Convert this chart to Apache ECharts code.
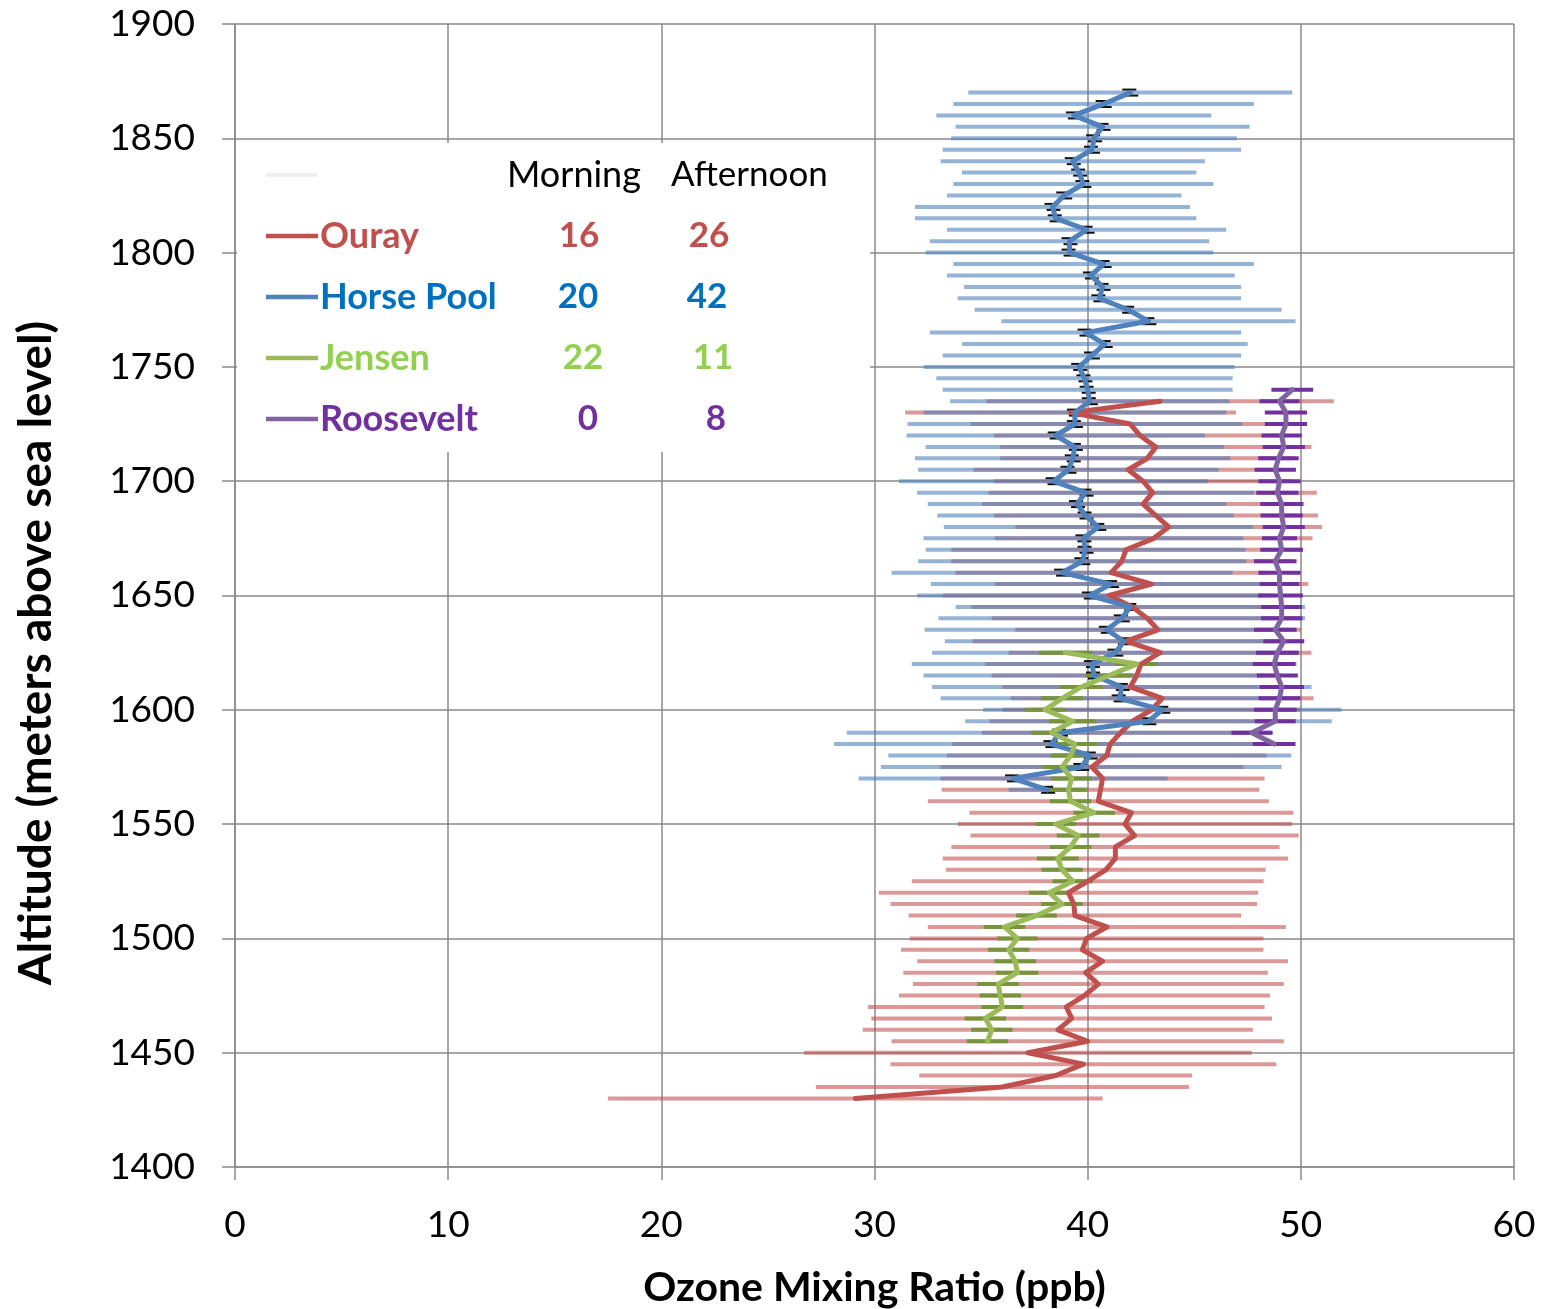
<!DOCTYPE html>
<html>
<head>
<meta charset="utf-8">
<script src="https://cdn.jsdelivr.net/npm/echarts@6.0.0/dist/echarts.min.js"></script>
<style>
  html, body { margin: 0; padding: 0; background: #ffffff; overflow: hidden; }
  #chart { width: 1562px; height: 1309px; }
</style>
</head>
<body>
<div id="chart"></div>
<script>
// Ozone profiles: altitude (m a.s.l.), mean mixing ratio (ppb) and spread (ppb) per station

const horsePoolAlt = [1870, 1865, 1860, 1855, 1850, 1845, 1840, 1835, 1830, 1825, 1820, 1815, 1810, 1805, 1800,
  1795, 1790, 1785, 1780, 1775, 1770, 1765, 1760, 1755, 1750, 1745, 1740, 1735, 1730, 1725, 1720,
  1715, 1710, 1705, 1700, 1695, 1690, 1685, 1680, 1675, 1670, 1665, 1660, 1655, 1650, 1645, 1640,
  1635, 1630, 1625, 1620, 1615, 1610, 1605, 1600, 1595, 1590, 1585, 1580, 1575, 1570, 1565];
const horsePoolO3 = [42.0, 40.75, 39.35, 40.7, 40.3, 40.2, 39.3, 39.6, 39.8, 38.9, 38.35, 38.5, 39.95, 39.15, 39.15,
  40.75, 40.15, 40.7, 40.55, 41.9, 42.85, 39.9, 40.8, 40.2, 39.6, 39.85, 40.0, 40.1, 39.4, 39.4, 38.5,
  39.4, 39.3, 39.1, 38.4, 39.9, 39.5, 39.9, 40.5, 39.8, 39.9, 39.75, 38.8, 41.1, 40.1, 42.0, 41.6,
  40.9, 41.7, 41.3, 40.2, 40.3, 41.6, 41.5, 43.5, 42.85, 38.7, 38.3, 40.1, 39.7, 36.5, 38.1];
const horsePoolErr = [7.6, 7.05, 6.45, 6.9, 6.7, 7.0, 6.2, 5.5, 6.1, 5.5, 6.45, 6.6, 6.55, 6.55, 6.75,
  7.05, 6.75, 6.5, 6.65, 7.2, 6.9, 7.3, 6.7, 7.0, 7.3, 6.95, 6.8, 6.55, 7.1, 7.85, 7.0,
  7.0, 7.4, 7.05, 7.25, 7.9, 7.0, 6.95, 7.25, 7.5, 7.5, 7.7, 8.0, 8.45, 8.1, 8.2, 8.6,
  8.55, 8.4, 8.6, 8.45, 8.0, 8.9, 8.4, 8.4, 8.6, 10.0, 10.2, 9.45, 9.4, 7.25, 1.8];

const ourayAlt = [1735, 1730, 1725, 1720, 1715, 1710, 1705, 1700, 1695, 1690, 1685, 1680, 1675, 1670, 1665,
  1660, 1655, 1650, 1645, 1640, 1635, 1630, 1625, 1620, 1615, 1610, 1605, 1600, 1595, 1590, 1585,
  1580, 1575, 1570, 1565, 1560, 1555, 1550, 1545, 1540, 1535, 1530, 1525, 1520, 1515, 1510, 1505,
  1500, 1495, 1490, 1485, 1480, 1475, 1470, 1465, 1460, 1455, 1450, 1445, 1440, 1435, 1430];
const ourayO3 = [43.4, 39.2, 42.0, 42.45, 43.2, 42.8, 41.9, 42.6, 43.05, 42.6, 43.2, 43.8, 43.1, 41.8, 41.6,
  41.1, 43.0, 41.0, 42.1, 42.8, 43.3, 41.8, 43.4, 42.5, 42.3, 42.0, 43.5, 43.0, 42.1, 41.55, 41.05,
  40.9, 40.2, 40.7, 40.6, 40.5, 42.05, 41.75, 42.2, 41.3, 41.3, 40.85, 40.0, 39.1, 39.35, 39.4, 40.9,
  39.95, 39.75, 40.7, 39.9, 40.5, 39.85, 39.0, 39.25, 38.6, 40.0, 37.2, 39.8, 38.5, 36.0, 29.1];
const ourayErr = [8.15, 7.76, 7.5, 6.85, 7.3, 6.9, 7.25, 7.0, 7.7, 7.55, 7.6, 7.2, 7.45, 8.2, 8.0,
  7.3, 7.35, 7.8, 7.55, 7.3, 6.7, 7.2, 7.1, 7.3, 6.8, 6.0, 7.1, 7.0, 6.7, 6.5, 7.4,
  7.5, 7.1, 7.6, 7.45, 8.0, 7.6, 7.85, 7.7, 7.7, 8.1, 7.5, 8.25, 8.9, 8.6, 7.8, 8.4,
  8.3, 8.5, 8.7, 8.55, 8.7, 8.7, 9.3, 9.4, 9.15, 9.2, 10.5, 9.05, 6.4, 8.75, 11.6];

const jensenAlt = [1625, 1620, 1615, 1610, 1605, 1600, 1595, 1590, 1585, 1580, 1575, 1570, 1565, 1560, 1555,
  1550, 1545, 1540, 1535, 1530, 1525, 1520, 1515, 1510, 1505, 1500, 1495, 1490, 1485, 1480, 1475,
  1470, 1465, 1460, 1455];
const jensenO3 = [38.95, 42.3, 41.0, 39.7, 38.8, 38.0, 39.3, 38.3, 39.4, 39.2, 38.8, 39.25, 39.1, 39.2, 40.3,
  38.5, 39.55, 39.2, 38.6, 38.8, 39.3, 38.2, 38.8, 37.6, 36.1, 36.7, 36.3, 36.6, 36.7, 35.8, 35.9,
  36.0, 35.2, 35.5, 35.3];
const jensenErr = [1.25, 1.0, 1.1, 1.0, 1.0, 0.95, 1.1, 0.95, 1.05, 0.92, 0.92, 0.95, 0.9, 0.97, 0.97,
  0.95, 1.0, 0.97, 0.98, 0.97, 0.95, 0.95, 0.97, 0.95, 0.97, 0.95, 0.97, 0.97, 0.99, 0.97, 0.97,
  0.97, 0.97, 0.97, 0.97];

const rooseveltAlt = [1740, 1735, 1730, 1725, 1720, 1715, 1710, 1705, 1700, 1695, 1690, 1685, 1680, 1675, 1670,
  1665, 1660, 1655, 1650, 1645, 1640, 1635, 1630, 1625, 1620, 1615, 1610, 1605, 1600, 1595, 1590, 1585];
const rooseveltO3 = [49.6, 49.0, 49.3, 49.3, 49.1, 49.2, 48.95, 48.8, 49.0, 48.9, 49.1, 49.1, 49.2, 49.0, 49.1,
  48.8, 49.0, 49.0, 49.05, 49.1, 49.1, 48.8, 49.2, 48.9, 48.75, 48.9, 49.1, 49.0, 48.8, 48.8, 47.7, 48.75];
const rooseveltErr = [0.98, 0.94, 0.99, 0.99, 0.94, 0.99, 0.95, 0.97, 0.99, 0.99, 1.0, 0.99, 0.99, 0.82, 1.0,
  1.0, 0.99, 0.93, 1.05, 0.96, 0.96, 1.0, 0.96, 1.0, 1.0, 0.96, 1.05, 0.98, 1.0, 0.96, 0.96, 1.0];

// Sounding counts shown in the key table
const stationNames = ['Ouray', 'Horse Pool', 'Jensen', 'Roosevelt'];
const morningCounts = [16, 20, 22, 0];
const afternoonCounts = [26, 42, 11, 8];
const tableHeaders = ['Morning', 'Afternoon'];

const FONT = 'Lato, "Open Sans", sans-serif';
const lineColors = ['#c0504d', '#4f81bd', '#9bbb59', '#8064a2'];
const textColors = ['#c0504d', '#0070c0', '#92d050', '#7030a0'];
const GRID_COLOR = '#8a8a8a';

function rows(alt, val, err) {
  return val.map((v, i) => [v, err ? err[i] : 0, alt[i]]);
}

// Horizontal spread bar at each altitude, drawn through the axes
function spreadBars(name, alt, val, err, color, width, z) {
  return {
    type: 'custom', name, z, silent: true, clip: true,
    data: rows(alt, val, err),
    encode: { x: 0, y: 2 },
    renderItem(params, api) {
      const v = api.value(0), e = api.value(1), a = api.value(2);
      const p1 = api.coord([v - e, a]);
      const p2 = api.coord([v + e, a]);
      return { type: 'line', shape: { x1: p1[0], y1: p1[1], x2: p2[0], y2: p2[1] },
               style: { stroke: color, lineWidth: width } };
    }
  };
}

// Small black marks at every Horse Pool level
function pointMarks(name, alt, val, z) {
  return {
    type: 'custom', name, z, silent: true, clip: true,
    data: rows(alt, val, null),
    encode: { x: 0, y: 2 },
    renderItem(params, api) {
      const p = api.coord([api.value(0), api.value(2)]);
      return { type: 'group', children: [
        { type: 'line', shape: { x1: p[0] - 8, y1: p[1] - 3, x2: p[0] + 6, y2: p[1] - 3 }, style: { stroke: '#111', lineWidth: 2 } },
        { type: 'line', shape: { x1: p[0] - 6, y1: p[1] + 3, x2: p[0] + 8, y2: p[1] + 3 }, style: { stroke: '#111', lineWidth: 2 } }
      ] };
    }
  };
}

function profileLine(name, alt, val, color, width, z) {
  return {
    type: 'line', name, z, silent: true, symbol: 'none', smooth: false,
    data: val.map((v, i) => [v, alt[i]]),
    lineStyle: { color, width, cap: 'round', join: 'round' }
  };
}

// Key table (white box in the upper-left of the plot)
const keyGraphics = [
  { type: 'rect', left: 237, top: 143, shape: { width: 633, height: 309 }, style: { fill: '#ffffff' }, z: 10 },
  { type: 'line', shape: { x1: 266, y1: 175, x2: 317, y2: 175 }, style: { stroke: '#eeeeee', lineWidth: 4 }, z: 11 },
  { type: 'text', x: 507, y: 175, style: { text: tableHeaders[0], font: '36px ' + FONT, fill: '#000', textVerticalAlign: 'middle' }, z: 11 },
  { type: 'text', x: 671, y: 175, style: { text: tableHeaders[1], font: '35px ' + FONT, fill: '#000', textVerticalAlign: 'middle' }, z: 11 }
];
const rowY = [236, 297, 358, 419];
const morningX = [579, 578, 583, 588];
const afternoonX = [709, 707, 713, 716];
stationNames.forEach((n, i) => {
  keyGraphics.push(
    { type: 'line', shape: { x1: 266, y1: rowY[i], x2: 318, y2: rowY[i] }, style: { stroke: lineColors[i], lineWidth: 4.5 }, z: 11 },
    { type: 'text', x: 320, y: rowY[i], style: { text: n, font: 'bold 36px ' + FONT, fill: textColors[i], textVerticalAlign: 'middle' }, z: 11 },
    { type: 'text', x: morningX[i], y: rowY[i], style: { text: String(morningCounts[i]), font: 'bold 35px ' + FONT, fill: textColors[i], textAlign: 'center', textVerticalAlign: 'middle' }, z: 11 },
    { type: 'text', x: afternoonX[i], y: rowY[i], style: { text: String(afternoonCounts[i]), font: 'bold 35px ' + FONT, fill: textColors[i], textAlign: 'center', textVerticalAlign: 'middle' }, z: 11 }
  );
});
keyGraphics.push({
  type: 'text', x: 36, y: 653, rotation: Math.PI / 2,
  style: { text: 'Altitude (meters above sea level)', font: 'bold 46px ' + FONT, fill: '#000', textAlign: 'center', textVerticalAlign: 'middle' },
  z: 11
});

const chart = echarts.init(document.getElementById('chart'), null, { renderer: 'canvas' });
chart.setOption({
  animation: false,
  backgroundColor: '#ffffff',
  grid: { left: 235, right: 48, top: 24, bottom: 142, containLabel: false, outerBoundsMode: 'none' },
  xAxis: {
    type: 'value', min: 0, max: 60, interval: 10,
    name: 'Ozone Mixing Ratio (ppb)', nameLocation: 'middle', nameGap: 100,
    nameTextStyle: { fontFamily: FONT, fontWeight: 'bold', fontSize: 41, color: '#000' },
    axisLine: { show: true, lineStyle: { color: GRID_COLOR, width: 1.5 } },
    axisTick: { show: true, length: 13, lineStyle: { color: GRID_COLOR, width: 1.5 } },
    axisLabel: { fontFamily: FONT, fontSize: 37, color: '#000', margin: 40 },
    splitLine: { show: true, lineStyle: { color: GRID_COLOR, width: 1.5 } }
  },
  yAxis: {
    type: 'value', min: 1400, max: 1900, interval: 50,
    axisLine: { show: true, lineStyle: { color: GRID_COLOR, width: 1.5 } },
    axisTick: { show: true, length: 13, lineStyle: { color: GRID_COLOR, width: 1.5 } },
    axisLabel: { fontFamily: FONT, fontSize: 37, color: '#000', margin: 40, formatter: v => String(v) },
    splitLine: { show: true, lineStyle: { color: GRID_COLOR, width: 1.5 } }
  },
  graphic: keyGraphics,
  series: [
    spreadBars('Ouray spread', ourayAlt, ourayO3, ourayErr, 'rgba(192,80,77,0.58)', 4, 2),
    spreadBars('Horse Pool spread', horsePoolAlt, horsePoolO3, horsePoolErr, 'rgba(79,129,189,0.6)', 4, 2),
    spreadBars('Jensen spread', jensenAlt, jensenO3, jensenErr, '#77933c', 4, 3),
    spreadBars('Roosevelt spread', rooseveltAlt, rooseveltO3, rooseveltErr, '#7030a0', 4, 3),
    pointMarks('Horse Pool marks', horsePoolAlt, horsePoolO3, 4),
    profileLine('Ouray', ourayAlt, ourayO3, lineColors[0], 5, 5),
    profileLine('Horse Pool', horsePoolAlt, horsePoolO3, lineColors[1], 5, 5),
    profileLine('Jensen', jensenAlt, jensenO3, lineColors[2], 5, 5),
    profileLine('Roosevelt', rooseveltAlt, rooseveltO3, lineColors[3], 5, 5)
  ]
});
</script>
</body>
</html>
